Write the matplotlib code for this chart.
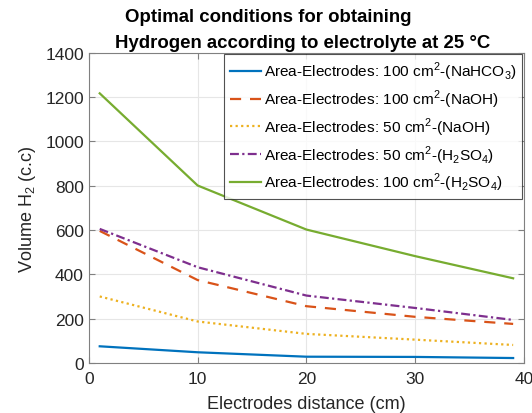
import matplotlib
matplotlib.use("Agg")
import matplotlib.pyplot as plt

plt.rcParams['font.family'] = ['Liberation Sans', 'DejaVu Sans']
plt.rcParams['mathtext.fontset'] = 'custom'
plt.rcParams['mathtext.rm'] = 'Liberation Sans'

distance = [1, 10, 20, 30, 39]
nahco3_100 = [75, 48, 28, 27, 22]
naoh_100 = [596, 374, 256, 208, 176]
naoh_50 = [300, 187, 131, 105, 81]
h2so4_50 = [605, 432, 304, 248, 194]
h2so4_100 = [1217, 801, 602, 482, 382]

labels = [
    "Area-Electrodes: 100 cm$^2$-(NaHCO$_3$)",
    "Area-Electrodes: 100 cm$^2$-(NaOH)",
    "Area-Electrodes: 50 cm$^2$-(NaOH)",
    "Area-Electrodes: 50 cm$^2$-(H$_2$SO$_4$)",
    "Area-Electrodes: 100 cm$^2$-(H$_2$SO$_4$)",
]
series = [nahco3_100, naoh_100, naoh_50, h2so4_50, h2so4_100]
colors = ['#0072BD', '#D95319', '#EDB120', '#7E2F8E', '#77AC30']
styles = ['-', (0, (5, 4)), (0, (1, 1.5)), (0, (4, 1.5, 1, 1.5)), '-']

fig = plt.figure(figsize=(5.32, 4.14), dpi=100)
ax = fig.add_axes([0.167, 0.121, 0.818, 0.749])

for y, lab, c, ls in zip(series, labels, colors, styles):
    ax.plot(distance, y, color=c, linestyle=ls, linewidth=1.6, label=lab)

ax.set_xlim(0, 40)
ax.set_ylim(0, 1400)
ax.set_xticks([0, 10, 20, 30, 40])
ax.set_yticks(range(0, 1401, 200))
ax.grid(True, color='#e6e6e6', linewidth=0.8)
ax.set_axisbelow(True)
for s in ax.spines.values():
    s.set_color('#808080')
    s.set_linewidth(0.8)
ax.tick_params(direction='in', colors='#808080', labelcolor='#262626', labelsize=12.5,
               length=4, top=True, right=True)
ax.tick_params(axis='x', pad=6)

ax.set_xlabel("Electrodes distance (cm)", fontsize=13, color='#262626', labelpad=6)
ax.set_ylabel("Volume H$_2$ (c.c)", fontsize=13, color='#262626', labelpad=5)

fig.text(0.505, 0.957, "Optimal conditions for obtaining", ha='center', va='center',
         fontsize=13.4, fontweight='bold')
fig.text(0.568, 0.896, "Hydrogen according to electrolyte at 25 °C", ha='center', va='center',
         fontsize=13.4, fontweight='bold')

leg = ax.legend(loc='upper right', fontsize=11.1, frameon=True, fancybox=False,
                borderaxespad=0.1, handlelength=2.0, handletextpad=0.25, labelspacing=0.36,
                borderpad=0.35)
leg.get_frame().set_edgecolor('#262626')
leg.get_frame().set_linewidth(0.8)

fig.savefig("out.png", dpi=100)
